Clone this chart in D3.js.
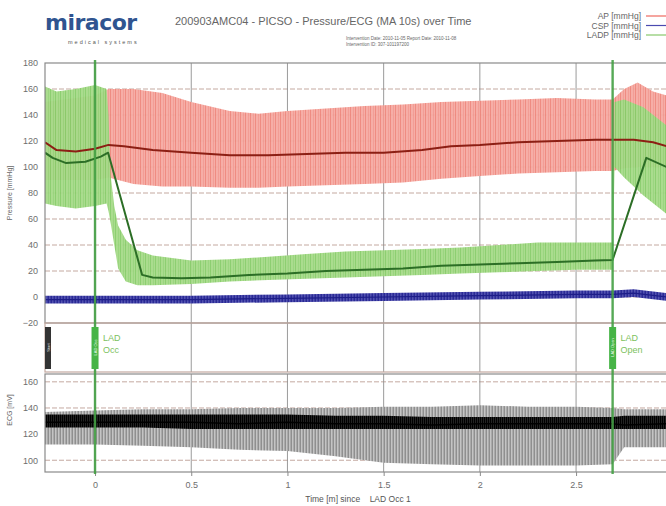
<!DOCTYPE html>
<html><head><meta charset="utf-8">
<script src="https://cdn.jsdelivr.net/npm/d3@7"></script>
<style>body{margin:0;background:#fff}svg{display:block;font-family:"Liberation Sans",Arial,sans-serif}</style>
</head><body><svg id="c" width="666" height="506"></svg>
<script>
// ---------- data ----------
const yTicksTop = [-20,0,20,40,60,80,100,120,140,160,180];
const yTicksEcg = [100,120,140,160];
const xTicks = [0,0.5,1,1.5,2,2.5];
const xTickLabels = ["0","0.5","1","1.5","2","2.5"];
const events = [{t:0, name:["LAD","Occ"]},{t:2.69, name:["LAD","Open"]}];
const legendNames = ["AP [mmHg]","CSP [mmHg]","LADP [mmHg]"];

// AP (red)
const apT    = [-0.26,-0.2,-0.1,0,0.07,0.15,0.3,0.5,0.7,0.9,1.1,1.3,1.5,1.7,1.85,2.0,2.2,2.4,2.6,2.69,2.8,2.9,2.97];
const apMean = [119,113,112,114,117,116,113,111,109,109,110,111,111,113,116,117,119,120,121,121,121,119,116];
const apBT   = [-0.26,0,0.07,0.2,0.35,0.5,0.7,0.85,1.0,1.2,1.4,1.6,1.8,2.0,2.2,2.4,2.6,2.69,2.75,2.82,2.9,2.97];
const apHi   = [150,155,160,160,157,150,143,141,143,145,147,148,150,151,152,153,152,152,160,165,158,155];
const apLo   = [90,90,92,87,85,85,84,84,85,86,87,88,91,93,95,96,97,97,99,100,100,100];

// CSP (blue)
const cspT    = [-0.26,0,0.5,1.0,1.5,2.0,2.5,2.69,2.8,2.97];
const cspMean = [-2,-2,-2,-1,0,1,2,2,3,0];

// LADP (green)
const ladT    = [-0.26,-0.22,-0.15,-0.05,0.03,0.068,0.245,0.3,0.45,0.6,0.8,1.0,1.2,1.4,1.6,1.8,2.0,2.2,2.4,2.6,2.69,2.865,2.97];
const ladMean = [111,107,103,104,108,111,17,15,14.5,15,17,18,20,21,22,24,25,26,27,28,28.5,107,100];
const ladBT   = [-0.26,-0.2,-0.1,0,0.06,0.07,0.08,0.1,0.12,0.16,0.22,0.3,0.5,0.7,0.9,1.1,1.3,1.5,1.7,1.9,2.1,2.3,2.5,2.69,2.7,2.75,2.85,2.97];
const ladHi   = [162,158,160,163,160,140,95,70,55,44,36,32,28,29,31,33,35,36,37,38,40,42,42,42,150,152,146,132];
const ladLo   = [72,70,68,70,72,66,58,40,22,12,9,9,10,12,13,14,15,16,17,18,19,20,21,21,100,92,78,64];

// ECG
const ecgT      = [-0.26,0,0.25,0.5,0.75,1.0,1.25,1.5,1.75,2.0,2.25,2.5,2.69,2.75,2.97];
const ecgHi     = [137,138,139,139,140,140,140,141,141,142,141,141,140,139,139];
const ecgBandHi = [135,135,135,135,135,135,134,134,133,133,133,133,133,134,134];
const ecgMid    = [129,129,129,129,128,129,128,128,127,128,128,128,128,127,128];
const ecgBandLo = [125,125,125,124,124,124,124,124,124,124,124,124,124,124,124];
const ecgLo     = [112,112,111,110,108,107,103,98,97,96,96,96,97,110,110];

// ---------- layout ----------
const svg = d3.select("#c");
const L = 45, R = 666;
const topP = {y0:63, y1:323}, strip = {y0:323, y1:372}, ecgP = {y0:374, y1:472};
const x = d3.scaleLinear().domain([-0.26, 2.97]).range([L, R+0.5]);
const yT = d3.scaleLinear().domain([-20,180]).range([topP.y1, topP.y0]);
const yE = d3.scaleLinear().domain([91,166]).range([ecgP.y1, ecgP.y0]);

// patterns for beat-to-beat texture
const defs = svg.append("defs");
function stripe(id, bg, fg, w, op) {
  const p = defs.append("pattern").attr("id", id).attr("patternUnits","userSpaceOnUse")
    .attr("width", w).attr("height", 8);
  p.append("rect").attr("width", w).attr("height", 8).attr("fill", bg);
  p.append("rect").attr("x", 0).attr("width", 1).attr("height", 8).attr("fill", fg).attr("opacity", op);
  p.append("rect").attr("x", Math.floor(w/2)+1).attr("width", 1).attr("height", 8).attr("fill", fg).attr("opacity", op*0.5);
}
stripe("pRed", "#f5aaa2", "#ec7d72", 5, 0.8);
stripe("pGreen", "#a5da88", "#80c862", 5, 0.8);
stripe("pBlue", "#5252b0", "#2a2a96", 3, 1);
stripe("pGray", "#c4c4c4", "#8a8a8a", 3, 0.9);
stripe("pBlack", "#222", "#000", 2, 1);
const clip = defs.append("clipPath").attr("id","clipAll");
clip.append("rect").attr("x",L).attr("y",0).attr("width",R-L).attr("height",506);

const gridH = "#c4a9a0", gridV = "#8f8f8f", axC = "#8a8a8a", txt = "#6e6e6e";

// ---------- header ----------
const logo = svg.append("text").attr("x",45).attr("y",30).attr("font-size",22).attr("font-weight","bold")
  .attr("fill","#2f5490").attr("font-family","'DejaVu Sans',sans-serif").attr("letter-spacing","-0.5");
logo.append("tspan").text("miraco");
logo.append("tspan").attr("fill","#2f5490").text("r");
svg.append("text").attr("x",68).attr("y",44).attr("font-size",5.5).attr("letter-spacing","2")
  .attr("fill","#555").text("medical systems");
svg.append("text").attr("x",175).attr("y",25).attr("font-size",11).attr("fill","#666")
  .text("200903AMC04  -  PICSO - Pressure/ECG (MA 10s) over Time");
svg.append("text").attr("x",346).attr("y",40).attr("font-size",4.5).attr("fill","#666")
  .text("Intervention Date: 2010-11-05 Report Date: 2010-11-08");
svg.append("text").attr("x",346).attr("y",46).attr("font-size",4.5).attr("fill","#666")
  .text("Intervention ID: 307-101197200");
const legCols = ["#ee6a60","#4a4ab0","#86c86a"];
legendNames.forEach((n,i)=>{
  svg.append("text").attr("x",641).attr("y",19+i*9.5).attr("text-anchor","end")
    .attr("font-size",8.5).attr("fill","#666").text(n);
  svg.append("line").attr("x1",646).attr("x2",666).attr("y1",16+i*9.5).attr("y2",16+i*9.5)
    .attr("stroke",legCols[i]).attr("stroke-width",1.2);
});

// ---------- grids ----------
const g = svg.append("g");
yTicksTop.slice(1,-1).forEach(v=>{
  g.append("line").attr("x1",L).attr("x2",R).attr("y1",yT(v)).attr("y2",yT(v))
   .attr("stroke",gridH).attr("stroke-dasharray","5,2");
});
yTicksEcg.forEach(v=>{
  g.append("line").attr("x1",L).attr("x2",R).attr("y1",yE(v)).attr("y2",yE(v))
   .attr("stroke",gridH).attr("stroke-dasharray","5,2");
});
xTicks.forEach(t=>{
  [[topP.y0,topP.y1],[strip.y0,strip.y1],[ecgP.y0,ecgP.y1]].forEach(([a,b])=>{
    g.append("line").attr("x1",x(t)).attr("x2",x(t)).attr("y1",a).attr("y2",b)
     .attr("stroke",gridV).attr("stroke-width",0.9);
  });
});

// ---------- series ----------
const plot = svg.append("g").attr("clip-path","url(#clipAll)");
function band(ts, hi, lo, ys, fill, op) {
  const d = ts.map((t,i)=>({t, h:hi[i], l:lo[i]}));
  plot.append("path").datum(d).attr("fill",fill).attr("opacity", op || 1)
    .attr("d", d3.area().x(p=>x(p.t)).y0(p=>ys(p.l)).y1(p=>ys(p.h)));
}
function line(ts, vs, ys, col, w) {
  plot.append("path").datum(ts.map((t,i)=>({t,v:vs[i]}))).attr("fill","none")
    .attr("stroke",col).attr("stroke-width",w).attr("stroke-linejoin","round")
    .attr("d", d3.line().x(p=>x(p.t)).y(p=>ys(p.v)));
}
band(apBT, apHi, apLo, yT, "url(#pRed)", 0.95);
band(ladBT, ladHi, ladLo, yT, "url(#pGreen)", 0.95);
band(cspT, cspMean.map(v=>v+3), cspMean.map(v=>v-3), yT, "url(#pBlue)");
line(apT, apMean, yT, "#8c1f14", 2);
line(ladT, ladMean, yT, "#2c6e26", 2);
line(cspT, cspMean, yT, "#1d1d88", 1.2);

band(ecgT, ecgHi, ecgLo, yE, "url(#pGray)");
band(ecgT, ecgBandHi, ecgBandLo, yE, "url(#pBlack)");
line(ecgT, ecgMid, yE, "#000", 1.5);

// ---------- frames ----------
[[topP.y0,topP.y1],[strip.y0,strip.y1],[ecgP.y0,ecgP.y1]].forEach(([a,b],i)=>{
  svg.append("rect").attr("x",L).attr("y",a).attr("width",R-L+2).attr("height",b-a)
    .attr("fill","none").attr("stroke", i===1 ? gridH : axC).attr("stroke-width",1.2);
});

// ---------- axes labels ----------
const axL = d3.axisLeft(yT).tickValues(yTicksTop).tickSize(0).tickPadding(7);
svg.append("g").attr("transform",`translate(${L},0)`).call(axL)
  .call(s=>{s.select(".domain").remove();s.selectAll("text").attr("fill",txt).attr("font-size",9);});
const axE = d3.axisLeft(yE).tickValues(yTicksEcg).tickSize(0).tickPadding(7);
svg.append("g").attr("transform",`translate(${L},0)`).call(axE)
  .call(s=>{s.select(".domain").remove();s.selectAll("text").attr("fill",txt).attr("font-size",9);});
const axB = d3.axisBottom(x).tickValues(xTicks).tickFormat((d,i)=>xTickLabels[i]).tickSize(4).tickPadding(6);
svg.append("g").attr("transform",`translate(0,${ecgP.y1})`).call(axB)
  .call(s=>{s.select(".domain").remove();s.selectAll("line").attr("stroke",axC);
    s.selectAll("text").attr("fill",txt).attr("font-size",9);});
svg.append("text").attr("x",358).attr("y",502).attr("text-anchor","middle").attr("font-size",8.5)
  .attr("fill","#555").attr("xml:space","preserve").text("Time [m] since    LAD Occ 1");
svg.append("text").attr("transform","translate(12,193) rotate(-90)").attr("text-anchor","middle")
  .attr("font-size",7).attr("fill","#666").text("Pressure [mmHg]");
svg.append("text").attr("transform","translate(12,410) rotate(-90)").attr("text-anchor","middle")
  .attr("font-size",7).attr("fill","#666").text("ECG [mV]");

// ---------- events ----------
svg.append("rect").attr("x",L).attr("y",strip.y0+4).attr("width",6).attr("height",strip.y1-strip.y0-7)
  .attr("fill","#333");
svg.append("text").attr("transform",`translate(${L+4.5},${(strip.y0+strip.y1)/2}) rotate(-90)`)
  .attr("text-anchor","middle").attr("font-size",4).attr("fill","#ddd").text("Start");
events.forEach(e=>{
  const ex = x(e.t);
  svg.append("line").attr("x1",ex).attr("x2",ex).attr("y1",topP.y0-3).attr("y2",ecgP.y1+2)
    .attr("stroke","#44a044").attr("stroke-width",2.4).attr("opacity",0.9);
  svg.append("rect").attr("x",ex-3.5).attr("y",strip.y0+4).attr("width",7).attr("height",strip.y1-strip.y0-7)
    .attr("fill","#46b446");
  svg.append("text").attr("transform",`translate(${ex+1.5},${(strip.y0+strip.y1)/2}) rotate(-90)`)
    .attr("text-anchor","middle").attr("font-size",4).attr("fill","#e8f8e8").text(e.name.join(" "));
  e.name.forEach((n,i)=>svg.append("text").attr("x",ex+8).attr("y",strip.y0+18+i*12)
    .attr("font-size",9).attr("fill","#7cc15e").text(n));
});
</script></body></html>
